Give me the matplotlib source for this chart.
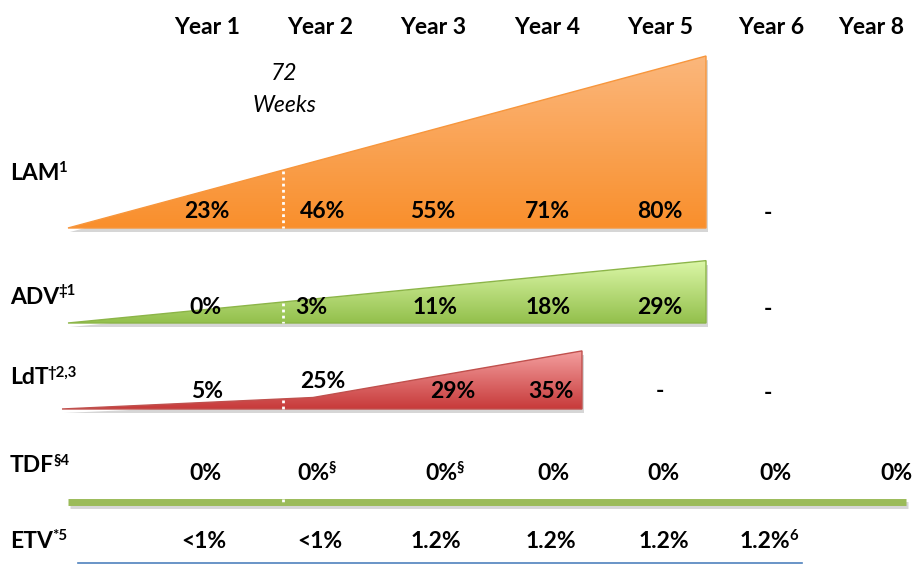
import matplotlib.pyplot as plt
import numpy as np
from matplotlib.patches import Polygon
from matplotlib.colors import LinearSegmentedColormap

plt.rcParams['font.family'] = ['Lato', 'DejaVu Sans']

years = ["Year 1", "Year 2", "Year 3", "Year 4", "Year 5", "Year 6", "Year 8"]
rows = ["LAM", "ADV", "LdT", "TDF", "ETV"]
row_sup = ["1", "\u20211", "\u20202,3", "\u00a74", "*5"]

lam = ["23%", "46%", "55%", "71%", "80%", "-", ""]
adv = ["0%", "3%", "11%", "18%", "29%", "-", ""]
ldt = ["5%", "25%", "29%", "35%", "-", "-", ""]
tdf = ["0%", "0%", "0%", "0%", "0%", "0%", "0%"]
tdf_sup = ["", "\u00a7", "\u00a7", "", "", "", ""]
etv = ["<1%", "<1%", "1.2%", "1.2%", "1.2%", "1.2%", ""]
etv_sup = ["", "", "", "", "", "6", ""]

lam_pct = [23, 46, 55, 71, 80]
adv_pct = [0, 3, 11, 18, 29]
ldt_pct = [5, 25, 29, 35]

W, H = 915, 564
fig = plt.figure(figsize=(W / 100, H / 100), dpi=100)
ax = fig.add_axes([0, 0, 1, 1])

col_x = [207, 320, 433, 547, 660, 771, 871]
x0 = 68
x_end = 706
wk72 = 283
fs = 16.5


def fix_lims():
    ax.set_xlim(0, W)
    ax.set_ylim(H, 0)


def grad_poly(verts, top_col, bot_col, edge):
    xs = [v[0] for v in verts]
    ys = [v[1] for v in verts]
    sh = Polygon([(x + 2, y + 4) for x, y in verts], closed=True,
                 fc='#bbbbbb', ec='none', alpha=0.6, zorder=1)
    ax.add_patch(sh)
    poly = Polygon(verts, closed=True, fc='none', ec=edge, lw=1, zorder=3)
    ax.add_patch(poly)
    cmap = LinearSegmentedColormap.from_list('g', [top_col, bot_col])
    g = np.linspace(0, 1, 256).reshape(-1, 1)
    im = ax.imshow(g, cmap=cmap, extent=(min(xs), max(xs), max(ys), min(ys)),
                   aspect='auto', zorder=2, interpolation='bilinear')
    im.set_clip_path(poly)
    fix_lims()


def dotted(x, y1, y2):
    ax.plot([x, x], [y1, y2], color='white', lw=2, ls=(0, (1, 1.2)), zorder=4,
            solid_capstyle='butt', dash_capstyle='butt')


def label(x, y, s, sup="", size=fs, ha='center', weight='bold'):
    t = ax.text(x, y, s, fontsize=size, fontweight=weight, ha=ha, va='center', zorder=6)
    if sup:
        r = fig.canvas.get_renderer()
        bb = t.get_window_extent(renderer=r)
        ax.text(bb.x1 - 1, H - bb.y1 - 2, sup, fontsize=size * 0.65, fontweight=weight,
                ha='left', va='top', zorder=6)


fix_lims()
ax.axis('off')

# LAM triangle, height from final value
k = 2.15
lam_base = 228
lam_top = lam_base - lam_pct[-1] * k
grad_poly([(x0, lam_base), (x_end, lam_base), (x_end, lam_top)], '#fbb77c', '#f98f2c', '#f7963c')
dotted(wk72, lam_base - (lam_base - lam_top) * (wk72 - x0) / (x_end - x0) + 1, lam_base)

# ADV
adv_base = 323
adv_top = adv_base - adv_pct[-1] * k
grad_poly([(x0, adv_base), (x_end, adv_base), (x_end, adv_top)], '#dcf7a8', '#93c04c', '#8cb548')
dotted(wk72, adv_base - (adv_base - adv_top) * (wk72 - x0) / (x_end - x0) + 1, adv_base)

# LdT
ldt_base = 409
kl = 1.66
ldt_x_end = 582
grad_poly([(62, ldt_base), (313, ldt_base - ldt_pct[0] * 2.3), (ldt_x_end, ldt_base - ldt_pct[-1] * kl),
           (ldt_x_end, ldt_base)], '#f4a0a0', '#c73a3a', '#c0504d')
dotted(wk72, ldt_base - ldt_pct[0] * 2.3 * (wk72 - 62) / (313 - 62) + 1, ldt_base)

# TDF line
tdf_y = 502
ax.plot([x0 + 2, 906 + 2], [tdf_y + 3, tdf_y + 3], color='#bbbbbb', lw=5, alpha=0.6, zorder=1,
        solid_capstyle='butt')
ax.plot([x0, 906], [tdf_y, tdf_y], color='#9bbb59', lw=5, zorder=3, solid_capstyle='butt')
dotted(wk72, tdf_y - 3, tdf_y + 3)

# ETV line
ax.plot([78, 802], [563, 563], color='#4f81bd', lw=1.2, zorder=3)

fig.canvas.draw()

# headers
for x, s in zip(col_x, years):
    label(x, 28, s)

ax.text(284, 73, "72", fontsize=fs, style='italic', ha='center', va='center')
ax.text(284, 106, "Weeks", fontsize=fs, style='italic', ha='center', va='center')

# row labels
row_y = [174, 297, 378, 466, 542]
for y, s, sp in zip(row_y, rows, row_sup):
    label(10, y, s, sp, ha='left')

# values
lam_x = [207, 323, 433, 547, 660, 768]
for x, s in zip(lam_x, lam):
    if s:
        label(x, 212 if s != "-" else 214, s)

adv_x = [205, 311, 435, 548, 660, 768]
for x, s in zip(adv_x, adv):
    if s:
        label(x, 307 if s != "-" else 310, s)

ldt_x = [207, 323, 453, 551, 660, 768]
ldt_y = [391, 381, 392, 392, 392, 394]
for x, y, s in zip(ldt_x, ldt_y, ldt):
    if s:
        label(x, y, s)

tdf_x = [205, 313, 441, 553, 663, 775, 896]
for x, s, sp in zip(tdf_x, tdf, tdf_sup):
    label(x, 473, s, sp)

etv_x = [204, 320, 436, 551, 664, 765]
for x, s, sp in zip(etv_x, etv, etv_sup):
    if s:
        label(x, 542, s, sp)

fig.savefig('out.png', dpi=100, facecolor='white')
